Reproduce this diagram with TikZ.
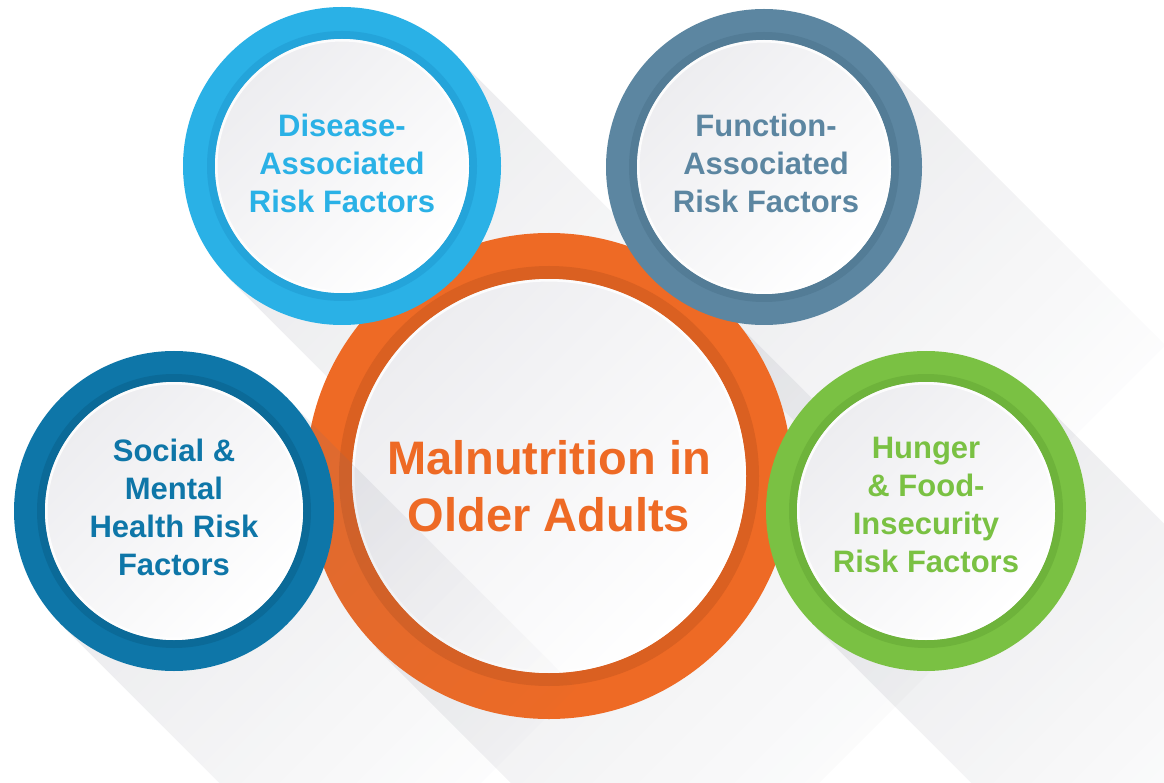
\documentclass[tikz,border=0pt]{standalone}
\usepackage{fontspec}
\setmainfont{Liberation Sans}
\usetikzlibrary{fadings}

\definecolor{diseaseC}{RGB}{42,177,230}
\definecolor{diseaseD}{RGB}{36,164,218}
\definecolor{functionC}{RGB}{92,134,161}
\definecolor{functionD}{RGB}{83,124,150}
\definecolor{socialC}{RGB}{14,118,168}
\definecolor{socialD}{RGB}{11,106,152}
\definecolor{hungerC}{RGB}{122,193,67}
\definecolor{hungerD}{RGB}{110,179,59}
\definecolor{orangeC}{RGB}{238,106,37}
\definecolor{orangeD}{RGB}{218,96,33}
\definecolor{shadowC}{RGB}{112,114,132}
\definecolor{paneltop}{RGB}{237,237,240}

\tikzfading[name=shadowfade, left color=transparent!0, right color=transparent!100]

% long shadow cast towards the lower right: centre x, centre y, radius
\newcommand\castshadow[3]{%
  \fill[longshadow]
    ({#1+0.7071*#3},{#2-0.7071*#3}) -- ++(290,290)
    -- ({#1-0.7071*#3+290},{#2+0.7071*#3+290})
    -- ({#1-0.7071*#3},{#2+0.7071*#3}) -- cycle;}

% coloured ring with a darker inner band and a softly shaded disc
% centre x, centre y, outer radius, inner radius, band radius, ring colour, band colour
\newcommand\ringdisc[7]{%
  \fill[#6] (#1,#2) circle[radius=#3];
  \fill[#7] (#1,#2) circle[radius=#5];
  \shade[top color=paneltop, bottom color=white, shading angle=45]
    (#1,#2) circle[radius=#4];
  \draw[white, line width=2.5, opacity=.85] (#1,#2) circle[radius=#4-1.3];}

\tikzset{
  longshadow/.style={fill=shadowC, fill opacity=0.15, path fading=shadowfade, fading angle=-45},
  smalltext/.style={align=center, font=\bfseries\fontsize{31}{38}\selectfont, inner sep=0},
  bigtext/.style={align=center, font=\bfseries\fontsize{47}{57}\selectfont, inner sep=0}
}

\begin{document}
\begin{tikzpicture}[x=1pt, y=-1pt]
  \useasboundingbox (0,0) rectangle (1164,783);
  \fill[white] (0,0) rectangle (1164,783);
  \clip (0,0) rectangle (1164,783);

  % shadows lying behind the central ring
  \castshadow{549}{476}{243}
  \castshadow{342}{166}{159}
  \castshadow{764}{167}{158}

  % central ring
  \ringdisc{549}{476}{243}{197}{210}{orangeC}{orangeD}

  % shadows falling over the central ring
  \castshadow{174}{511}{160}
  \castshadow{926}{511}{160}

  % surrounding rings
  \ringdisc{342}{166}{159}{127}{135}{diseaseC}{diseaseD}
  \ringdisc{764}{167}{158}{127}{135}{functionC}{functionD}
  \ringdisc{174}{511}{160}{129}{137}{socialC}{socialD}
  \ringdisc{926}{511}{160}{129}{137}{hungerC}{hungerD}

  % labels
  \node[bigtext, text=orangeC] (core) at (549,486) {Malnutrition in\\Older Adults};
  \node[smalltext, text=diseaseC] (disease) at (342,163) {Disease-\\Associated\\Risk Factors};
  \node[smalltext, text=functionC] (function) at (766,163) {Function-\\Associated\\Risk Factors};
  \node[smalltext, text=socialC] (social) at (174,507) {Social \&\\Mental\\Health Risk\\Factors};
  \node[smalltext, text=hungerC] (hunger) at (926,505) {Hunger\\\& Food-\\Insecurity\\Risk Factors};
\end{tikzpicture}
\end{document}
